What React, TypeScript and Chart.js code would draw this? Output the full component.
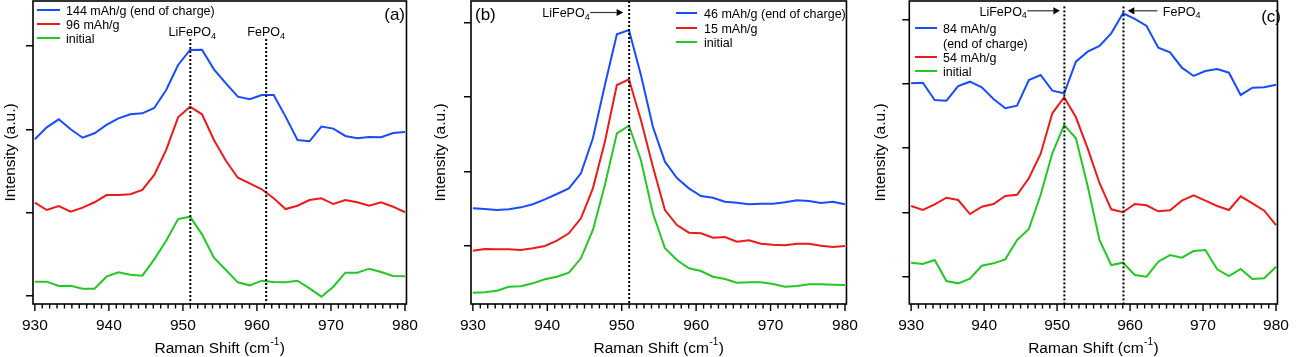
import React, { useEffect, useRef } from 'react';
import { Chart, registerables } from 'chart.js';

Chart.register(...registerables);

const FONT = '"Liberation Sans", Arial, Helvetica, sans-serif';
const H = 357;

// ---------- data ----------
const RAMAN_SHIFT = [930.0, 931.61, 933.23, 934.84, 936.45, 938.06, 939.68, 941.29, 942.9, 944.52, 946.13, 947.74, 949.35, 950.97, 952.58, 954.19, 955.81, 957.42, 959.03, 960.65, 962.26, 963.87, 965.48, 967.1, 968.71, 970.32, 971.94, 973.55, 975.16, 976.77, 978.39, 980.0];
const X_TICKS = [930, 940, 950, 960, 970, 980];

// panel (a)
const A_144 = [1.881, 2.025, 2.121, 2.001, 1.9, 1.953, 2.053, 2.133, 2.181, 2.193, 2.257, 2.473, 2.773, 2.953, 2.957, 2.721, 2.553, 2.393, 2.361, 2.413, 2.413, 2.153, 1.873, 1.857, 2.033, 2.009, 1.921, 1.893, 1.909, 1.905, 1.957, 1.969];
const A_96 = [1.12, 1.032, 1.08, 1.012, 1.06, 1.125, 1.212, 1.212, 1.221, 1.273, 1.453, 1.753, 2.145, 2.273, 2.181, 1.873, 1.624, 1.42, 1.353, 1.281, 1.173, 1.044, 1.084, 1.152, 1.173, 1.104, 1.152, 1.125, 1.084, 1.125, 1.072, 1.005];
const A_INITIAL = [0.172, 0.172, 0.12, 0.124, 0.088, 0.088, 0.232, 0.284, 0.256, 0.244, 0.44, 0.664, 0.924, 0.952, 0.74, 0.46, 0.312, 0.164, 0.128, 0.184, 0.168, 0.164, 0.184, 0.092, -0.008, 0.112, 0.28, 0.28, 0.328, 0.288, 0.24, 0.236];
const A_Y_TICKS = [0, 1, 2, 3];
const A_MARKERS = [951.0, 961.25];

// panel (b)
const B_46 = [1.506, 1.497, 1.483, 1.493, 1.519, 1.56, 1.627, 1.698, 1.774, 1.976, 2.446, 3.161, 3.841, 3.899, 3.295, 2.601, 2.132, 1.913, 1.774, 1.671, 1.648, 1.595, 1.581, 1.56, 1.568, 1.568, 1.587, 1.613, 1.604, 1.577, 1.595, 1.56];
const B_15 = [0.937, 0.96, 0.956, 0.956, 0.946, 0.969, 1.0, 1.071, 1.17, 1.372, 1.774, 2.4, 3.161, 3.238, 2.691, 2.064, 1.483, 1.282, 1.179, 1.17, 1.111, 1.121, 1.058, 1.077, 1.031, 1.017, 1.009, 1.031, 1.031, 1.004, 0.987, 1.0];
const B_INITIAL = [0.373, 0.379, 0.4, 0.454, 0.459, 0.499, 0.553, 0.588, 0.642, 0.835, 1.215, 1.819, 2.513, 2.615, 2.154, 1.439, 0.969, 0.812, 0.701, 0.664, 0.588, 0.557, 0.507, 0.513, 0.513, 0.49, 0.454, 0.463, 0.486, 0.486, 0.481, 0.477];
const B_Y_TICKS = [1, 2, 3, 4];
const B_MARKERS = [951.0];

// panel (c)
const C_84 = [3.005, 3.015, 2.746, 2.735, 2.963, 3.03, 2.943, 2.761, 2.617, 2.657, 3.057, 3.134, 2.89, 2.85, 3.341, 3.497, 3.585, 3.782, 4.093, 4.005, 3.896, 3.559, 3.487, 3.248, 3.119, 3.197, 3.228, 3.17, 2.824, 2.937, 2.943, 2.984];
const C_54 = [1.099, 1.037, 1.125, 1.228, 1.192, 0.974, 1.088, 1.13, 1.254, 1.274, 1.529, 1.907, 2.539, 2.788, 2.477, 1.995, 1.456, 1.047, 1.001, 1.13, 1.11, 1.016, 1.032, 1.181, 1.265, 1.181, 1.099, 1.037, 1.249, 1.141, 1.026, 0.803];
const C_INITIAL = [0.218, 0.197, 0.26, -0.067, -0.103, -0.031, 0.171, 0.208, 0.27, 0.57, 0.741, 1.27, 1.918, 2.357, 2.151, 1.409, 0.57, 0.182, 0.218, 0.026, 0.0, 0.233, 0.337, 0.295, 0.399, 0.415, 0.115, 0.011, 0.12, -0.036, -0.025, 0.155];
const C_Y_TICKS = [0, 1, 2, 3, 4];
const C_MARKERS = [951.0, 959.1];

// ---------- styles ----------
const BLUE = 'rgb(25,75,255)';
const RED = 'rgb(240,25,25)';
const GREEN = 'rgb(35,200,35)';

// ---------- drawing helpers ----------
function chem(ctx: CanvasRenderingContext2D, base: string, sub: string, x: number, baseline: number, align: 'left' | 'center' | 'right', size = 12.5) {
  ctx.save();
  ctx.fillStyle = '#000';
  ctx.textBaseline = 'alphabetic';
  ctx.textAlign = 'left';
  ctx.font = `${size}px ${FONT}`;
  const wb = ctx.measureText(base).width;
  ctx.font = `${size * 0.72}px ${FONT}`;
  const ws = ctx.measureText(sub).width;
  const total = wb + ws;
  const x0 = align === 'left' ? x : align === 'center' ? x - total / 2 : x - total;
  ctx.font = `${size}px ${FONT}`;
  ctx.fillText(base, x0, baseline);
  ctx.font = `${size * 0.72}px ${FONT}`;
  ctx.fillText(sub, x0 + wb, baseline + size * 0.22);
  ctx.restore();
}

function arrow(ctx: CanvasRenderingContext2D, xFrom: number, y: number, xTip: number) {
  const dir = Math.sign(xTip - xFrom);
  const hl = 6.5, hw = 3.6;
  ctx.save();
  ctx.strokeStyle = '#333';
  ctx.fillStyle = '#000';
  ctx.lineWidth = 1.2;
  ctx.beginPath();
  ctx.moveTo(xFrom, y);
  ctx.lineTo(xTip - dir * hl, y);
  ctx.stroke();
  ctx.beginPath();
  ctx.moveTo(xTip, y);
  ctx.lineTo(xTip - dir * hl, y - hw);
  ctx.lineTo(xTip - dir * hl, y + hw);
  ctx.closePath();
  ctx.fill();
  ctx.restore();
}

function text(ctx: CanvasRenderingContext2D, s: string, x: number, baseline: number, align: CanvasTextAlign, size: number) {
  ctx.save();
  ctx.fillStyle = '#000';
  ctx.font = `${size}px ${FONT}`;
  ctx.textAlign = align;
  ctx.textBaseline = 'alphabetic';
  ctx.fillText(s, x, baseline);
  ctx.restore();
}

type LegendRow = { y: number; text: string; color?: string };
function legend(ctx: CanvasRenderingContext2D, x0: number, x1: number, tx: number, rows: LegendRow[]) {
  const size = 12.5;
  rows.forEach((r) => {
    if (r.color) {
      ctx.save();
      ctx.strokeStyle = r.color;
      ctx.lineWidth = 2;
      ctx.beginPath();
      ctx.moveTo(x0, r.y);
      ctx.lineTo(x1, r.y);
      ctx.stroke();
      ctx.restore();
    }
    text(ctx, r.text, tx, r.y + size * 0.36, 'left', size);
  });
}

// ---------- panels ----------
type Series = { label: string; values: number[]; color: string };
type PanelDef = {
  id: string;
  left: number;
  width: number;
  areaLeft: number;
  areaRight: number;
  yMin: number;
  yMax: number;
  yTicks: number[];
  series: Series[];
  markers: number[];
  markerTop: number;
  decorate: (ctx: CanvasRenderingContext2D, chart: any) => void;
};

const PANELS: PanelDef[] = [
  {
    id: 'a',
    left: 0,
    width: 430,
    areaLeft: 33,
    areaRight: 411.5,
    yMin: -0.096,
    yMax: 3.541,
    yTicks: A_Y_TICKS,
    series: [
      { label: '144 mAh/g (end of charge)', values: A_144, color: BLUE },
      { label: '96 mAh/g', values: A_96, color: RED },
      { label: 'initial', values: A_INITIAL, color: GREEN },
    ],
    markers: A_MARKERS,
    markerTop: 3.085,
    decorate: (ctx, chart) => {
      const x = chart.scales.x;
      legend(ctx, 37, 60, 66, [
        { y: 10, text: '144 mAh/g (end of charge)', color: BLUE },
        { y: 24, text: '96 mAh/g', color: RED },
        { y: 38, text: 'initial', color: GREEN },
      ]);
      text(ctx, '(a)', 405, 20, 'right', 17);
      chem(ctx, 'LiFePO', '4', x.getPixelForValue(A_MARKERS[0]) + 2, 36, 'center');
      chem(ctx, 'FePO', '4', x.getPixelForValue(A_MARKERS[1]), 36, 'center');
    },
  },
  {
    id: 'b',
    left: 430,
    width: 440,
    areaLeft: 41,
    areaRight: 417.5,
    yMin: 0.2215,
    yMax: 4.289,
    yTicks: B_Y_TICKS,
    series: [
      { label: '46 mAh/g (end of charge)', values: B_46, color: BLUE },
      { label: '15 mAh/g', values: B_15, color: RED },
      { label: 'initial', values: B_INITIAL, color: GREEN },
    ],
    markers: B_MARKERS,
    markerTop: 4.289,
    decorate: (ctx, chart) => {
      const x = chart.scales.x;
      legend(ctx, 246, 267, 274, [
        { y: 13, text: '46 mAh/g (end of charge)', color: BLUE },
        { y: 28, text: '15 mAh/g', color: RED },
        { y: 42, text: 'initial', color: GREEN },
      ]);
      text(ctx, '(b)', 45, 20, 'left', 17);
      const lx = x.getPixelForValue(B_MARKERS[0]);
      chem(ctx, 'LiFePO', '4', lx - 39.5, 17, 'right');
      arrow(ctx, lx - 39, 12.5, lx - 6);
    },
  },
  {
    id: 'c',
    left: 870,
    width: 431,
    areaLeft: 39.3,
    areaRight: 416.7,
    yMin: -0.424,
    yMax: 4.284,
    yTicks: C_Y_TICKS,
    series: [
      { label: '84 mAh/g (end of charge)', values: C_84, color: BLUE },
      { label: '54 mAh/g', values: C_54, color: RED },
      { label: 'initial', values: C_INITIAL, color: GREEN },
    ],
    markers: C_MARKERS,
    markerTop: 4.2,
    decorate: (ctx, chart) => {
      const x = chart.scales.x;
      legend(ctx, 45, 67, 73, [
        { y: 28, text: '84 mAh/g', color: BLUE },
        { y: 43, text: '(end of charge)' },
        { y: 57, text: '54 mAh/g', color: RED },
        { y: 71, text: 'initial', color: GREEN },
      ]);
      text(ctx, '(c)', 411, 21.5, 'right', 17);
      const l1 = x.getPixelForValue(C_MARKERS[0]);
      const l2 = x.getPixelForValue(C_MARKERS[1]);
      chem(ctx, 'LiFePO', '4', l1 - 37.5, 15.5, 'right');
      arrow(ctx, l1 - 37, 10.8, l1 - 4.5);
      arrow(ctx, l2 + 34, 10.8, l2 + 4.3);
      chem(ctx, 'FePO', '4', l2 + 39.3, 15.5, 'left');
    },
  },
];

function makeDecorPlugin(def: PanelDef) {
  return {
    id: 'decor_' + def.id,
    afterDraw(chart: any) {
      const ctx: CanvasRenderingContext2D = chart.ctx;
      const a = chart.chartArea;
      const x = chart.scales.x;
      ctx.save();
      // frame
      ctx.strokeStyle = '#000';
      ctx.lineWidth = 1.6;
      ctx.strokeRect(a.left, a.top, a.right - a.left, a.bottom - a.top);
      // x tick marks (major every 10, minor every 1)
      ctx.lineWidth = 1.4;
      for (let v = X_TICKS[0]; v <= X_TICKS[X_TICKS.length - 1]; v += 1) {
        const px = x.getPixelForValue(v);
        const len = X_TICKS.includes(v) ? 7 : 4.5;
        ctx.beginPath();
        ctx.moveTo(px, a.bottom);
        ctx.lineTo(px, a.bottom + len);
        ctx.stroke();
      }
      // x axis title with superscript
      const size = 15.5;
      const sup = 10;
      ctx.fillStyle = '#000';
      ctx.textBaseline = 'alphabetic';
      ctx.textAlign = 'left';
      ctx.font = `${size}px ${FONT}`;
      const p1 = 'Raman Shift (cm';
      const p3 = ')';
      const w1 = ctx.measureText(p1).width;
      const w3 = ctx.measureText(p3).width;
      ctx.font = `${sup}px ${FONT}`;
      const p2 = '-1';
      const w2 = ctx.measureText(p2).width;
      const cx = (a.left + a.right) / 2;
      let tx = cx - (w1 + w2 + w3 + 1) / 2;
      const base = 353;
      ctx.font = `${size}px ${FONT}`;
      ctx.fillText(p1, tx, base);
      tx += w1 + 0.5;
      ctx.font = `${sup}px ${FONT}`;
      ctx.fillText(p2, tx, base - 8);
      tx += w2 + 0.5;
      ctx.font = `${size}px ${FONT}`;
      ctx.fillText(p3, tx, base);
      ctx.restore();
      def.decorate(ctx, chart);
    },
  };
}

function Panel({ def }: { def: PanelDef }) {
  const ref = useRef<HTMLCanvasElement | null>(null);
  useEffect(() => {
    if (!ref.current) return;
    const datasets: any[] = def.series.map((s) => ({
      label: s.label,
      data: RAMAN_SHIFT.map((xv, i) => ({ x: xv, y: s.values[i] })),
      borderColor: s.color,
      backgroundColor: s.color,
      borderWidth: 2,
      pointRadius: 0,
      tension: 0,
      fill: false,
      order: 1,
    }));
    def.markers.forEach((m) => {
      datasets.push({
        label: 'marker',
        data: [
          { x: m, y: def.markerTop },
          { x: m, y: def.yMin },
        ],
        borderColor: '#000',
        borderWidth: 2,
        borderDash: [2, 2],
        pointRadius: 0,
        fill: false,
        order: 0,
      });
    });
    const yTicks = def.yTicks;
    const chart = new Chart(ref.current, {
      type: 'line',
      data: { datasets },
      options: {
        animation: false,
        responsive: false,
        devicePixelRatio: 1,
        layout: { padding: { left: 0, top: 1, right: def.width - def.areaRight, bottom: 0 } },
        plugins: {
          legend: { display: false },
          tooltip: { enabled: false },
          title: { display: false },
        },
        scales: {
          x: {
            type: 'linear',
            min: 929.75,
            max: 980.2,
            afterBuildTicks: (s: any) => {
              s.ticks = X_TICKS.map((v) => ({ value: v }));
            },
            afterFit: (s: any) => {
              s.height = H - 304;
            },
            ticks: {
              color: '#000',
              font: { family: FONT, size: 15.5 },
              padding: 12,
              autoSkip: false,
              maxRotation: 0,
              callback: (v: any) => String(v),
            },
            grid: { display: false, drawTicks: false },
            border: { display: false },
          },
          y: {
            type: 'linear',
            min: def.yMin,
            max: def.yMax,
            afterBuildTicks: (s: any) => {
              s.ticks = yTicks.map((v) => ({ value: v }));
            },
            afterFit: (s: any) => {
              s.width = def.areaLeft;
            },
            ticks: { display: false },
            grid: {
              display: true,
              drawOnChartArea: false,
              drawTicks: true,
              tickLength: 7,
              color: '#000',
              lineWidth: 1.5,
            },
            border: { display: false },
            title: {
              display: true,
              text: 'Intensity (a.u.)',
              color: '#000',
              font: { family: FONT, size: 15.5 },
              padding: { top: 1, bottom: 0 },
            },
          },
        },
      } as any,
      plugins: [makeDecorPlugin(def)],
    });
    return () => chart.destroy();
  }, [def]);
  return (
    <canvas
      ref={ref}
      width={def.width}
      height={H}
      style={{ position: 'absolute', left: def.left, top: 0, width: def.width, height: H }}
    />
  );
}

export default function App() {
  useEffect(() => {
    document.body.style.margin = '0';
    document.body.style.background = '#fff';
  }, []);
  return (
    <div style={{ position: 'absolute', left: 0, top: 0, width: 1301, height: H, background: '#fff', overflow: 'hidden' }}>
      {PANELS.map((p) => (
        <Panel key={p.id} def={p} />
      ))}
    </div>
  );
}
